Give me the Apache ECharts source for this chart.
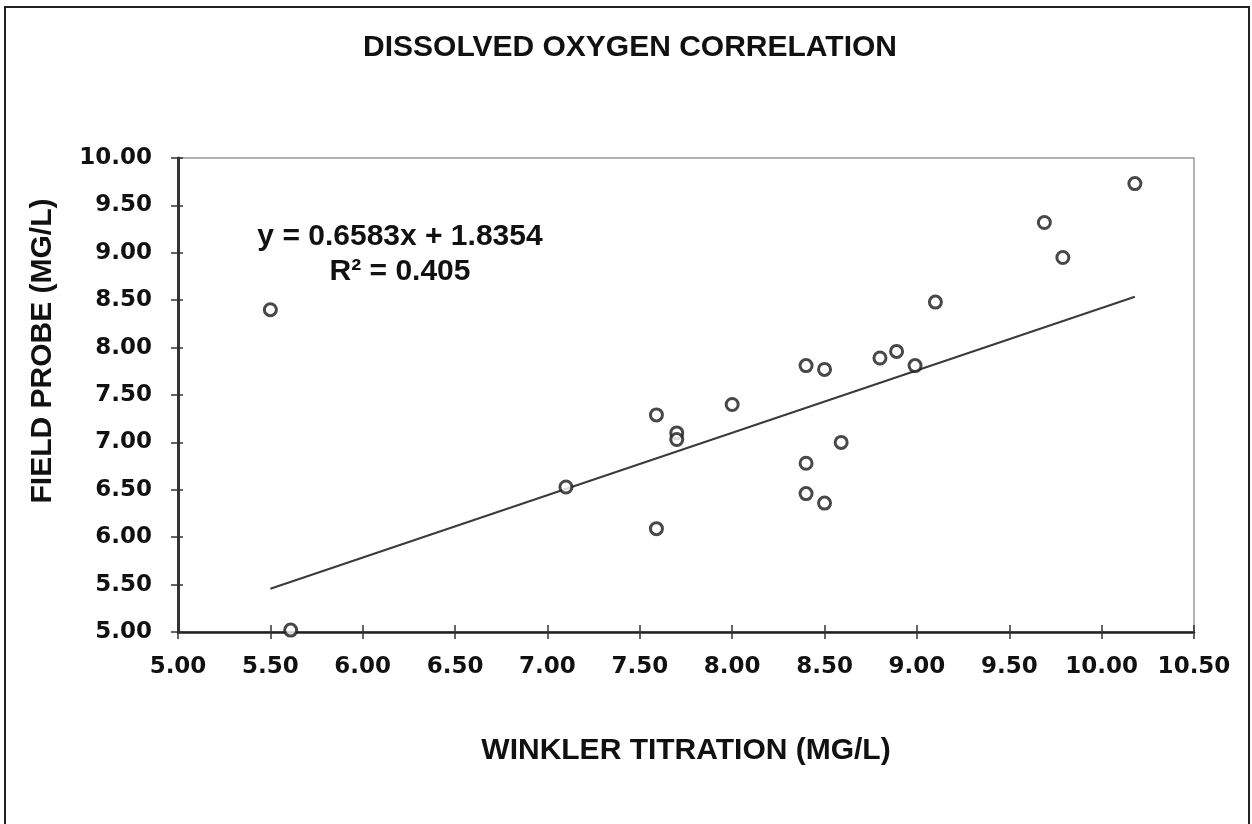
<!DOCTYPE html>
<html>
<head>
<meta charset="utf-8">
<script src="https://cdn.jsdelivr.net/npm/echarts@6/dist/echarts.min.js"></script>
<style>
  html, body { margin: 0; padding: 0; background: #ffffff; }
  #chart { width: 1252px; height: 824px; }
</style>
</head>
<body>
<div id="chart"></div>
<script>
// ---- data ----
var winklerX = [5.50, 5.61, 7.10, 7.59, 7.59, 7.70, 7.70, 8.00, 8.40, 8.50, 8.40, 8.40, 8.50, 8.59, 8.80, 8.89, 8.99, 9.10, 9.69, 9.79, 10.18];
var probeY   = [8.40, 5.02, 6.53, 7.29, 6.09, 7.10, 7.03, 7.40, 7.81, 7.77, 6.78, 6.46, 6.36, 7.00, 7.89, 7.96, 7.81, 8.48, 9.32, 8.95, 9.73];
var trendSlope = 0.6583;
var trendIntercept = 1.8354;
var trendX = [5.50, 10.18];
var rSquared = 0.405;
var xTicks = [5.00, 5.50, 6.00, 6.50, 7.00, 7.50, 8.00, 8.50, 9.00, 9.50, 10.00, 10.50];
var yTicks = [5.00, 5.50, 6.00, 6.50, 7.00, 7.50, 8.00, 8.50, 9.00, 9.50, 10.00];
var chartTitle = 'DISSOLVED OXYGEN CORRELATION';
var xName = 'WINKLER TITRATION (MG/L)';
var yName = 'FIELD PROBE (MG/L)';

var points = winklerX.map(function (x, i) { return [x, probeY[i]]; });
var trendPts = trendX.map(function (x) { return [x, trendSlope * x + trendIntercept]; });
var eqText = 'y = ' + trendSlope.toFixed(4) + 'x + ' + trendIntercept.toFixed(4) + '\nR\u00B2 = ' + rSquared.toFixed(3);

var chart = echarts.init(document.getElementById('chart'), null, { renderer: 'canvas' });
var titleFont = 'Liberation Sans, Arial, sans-serif';
var tickFont = 'DejaVu Sans, sans-serif';
var xMin = xTicks[0], xMax = xTicks[xTicks.length - 1];
var yMin = yTicks[0], yMax = yTicks[yTicks.length - 1];
var step = 0.5;
var fmt = function (v) { return v.toFixed(2); };

chart.setOption({
  backgroundColor: '#ffffff',
  animation: false,
  title: [
    {
      text: chartTitle,
      left: 625, top: 28, textAlign: 'center',
      textStyle: { fontFamily: titleFont, fontWeight: 'bold', fontSize: 30, lineHeight: 30, color: '#111' }
    },
    {
      text: eqText,
      left: 395, top: 214, textAlign: 'center',
      textStyle: { fontFamily: titleFont, fontWeight: 'bold', fontSize: 30, lineHeight: 35, color: '#111' }
    }
  ],
  grid: {
    left: 178, right: 58, top: 158, bottom: 192,
    show: true, borderColor: '#9a9a9a', borderWidth: 1.5, backgroundColor: 'transparent'
  },
  xAxis: [
    {
      type: 'value', min: xMin, max: xMax, interval: step,
      name: xName, nameLocation: 'middle', nameGap: 104,
      nameTextStyle: { fontFamily: titleFont, fontWeight: 'bold', fontSize: 30, lineHeight: 30, color: '#111' },
      axisLine: { show: true, onZero: false, lineStyle: { color: '#222', width: 2.5 } },
      axisTick: { show: true, length: 7, lineStyle: { color: '#333', width: 1.5 } },
      axisLabel: { margin: 24, fontFamily: tickFont, fontWeight: 'bold', fontSize: 23, color: '#111', formatter: fmt },
      splitLine: { show: false }
    },
    {
      type: 'value', min: xMin, max: xMax, interval: step, position: 'bottom',
      axisLine: { show: false, onZero: false },
      axisTick: { show: true, inside: true, length: 7, lineStyle: { color: '#333', width: 1.5 } },
      axisLabel: { show: false },
      splitLine: { show: false }
    }
  ],
  yAxis: [
    {
      type: 'value', min: yMin, max: yMax, interval: step,
      name: yName, nameLocation: 'middle', nameGap: 120,
      nameTextStyle: { fontFamily: titleFont, fontWeight: 'bold', fontSize: 30, lineHeight: 30, color: '#111', padding: [0, 0, 0, 88] },
      axisLine: { show: true, onZero: false, lineStyle: { color: '#333', width: 3 } },
      axisTick: { show: true, length: 7, lineStyle: { color: '#333', width: 1.5 } },
      axisLabel: { margin: 26, fontFamily: tickFont, fontWeight: 'bold', fontSize: 23, color: '#111', formatter: fmt },
      splitLine: { show: false }
    },
    {
      type: 'value', min: yMin, max: yMax, interval: step, position: 'left',
      axisLine: { show: false, onZero: false },
      axisTick: { show: true, inside: true, length: 5, lineStyle: { color: '#333', width: 1.5 } },
      axisLabel: { show: false },
      splitLine: { show: false }
    }
  ],
  series: [
    {
      name: 'Linear trend', type: 'line', data: trendPts,
      symbol: 'none', silent: true, z: 2,
      lineStyle: { color: '#3a3a3a', width: 2 }
    },
    {
      name: 'Field probe', type: 'scatter', data: points,
      symbol: 'circle', symbolSize: 12, z: 3,
      itemStyle: { color: '#ffffff', borderColor: '#1a1a1a', borderWidth: 3 }
    }
  ],
  graphic: [
    {
      type: 'rect', silent: true, z: -1,
      shape: { x: 5, y: 7, width: 1244, height: 830 },
      style: { fill: null, stroke: '#222', lineWidth: 2 }
    }
  ]
});
</script>
</body>
</html>
